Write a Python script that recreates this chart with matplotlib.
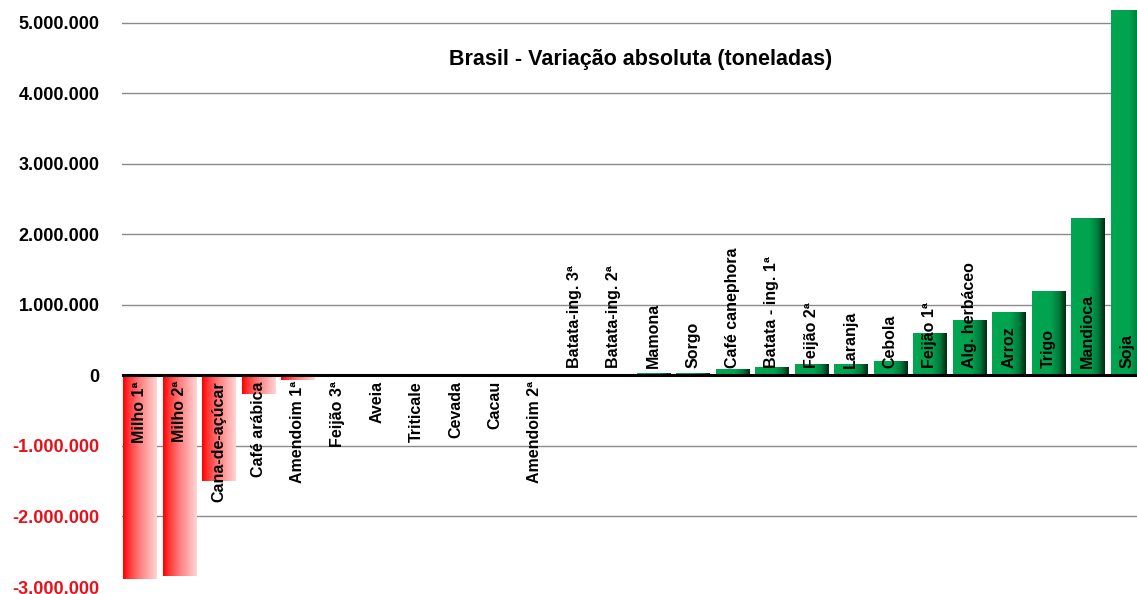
import matplotlib

matplotlib.use("Agg")
import matplotlib.pyplot as plt
import numpy as np
from matplotlib.colors import LinearSegmentedColormap
from matplotlib.ticker import FuncFormatter

plt.rcParams["font.family"] = ["Liberation Sans", "DejaVu Sans"]

CROPS = [
    "Milho 1ª", "Milho 2ª", "Cana-de-açúcar", "Café arábica", "Amendoim 1ª",
    "Feijão 3ª", "Aveia", "Triticale", "Cevada", "Cacau", "Amendoim 2ª",
    "Batata-ing. 3ª", "Batata-ing. 2ª", "Mamona", "Sorgo", "Café canephora",
    "Batata - ing. 1ª", "Feijão 2ª", "Laranja", "Cebola", "Feijão 1ª",
    "Alg. herbáceo", "Arroz", "Trigo", "Mandioca", "Soja",
]
VALUES = [
    -2890000, -2850000, -1490000, -260000, -60000,
    -4000, -3000, -2500, -2000, -1500, -1000,
    1000, 2000, 37000, 35000, 90000,
    120000, 160000, 160000, 200000, 600000,
    790000, 900000, 1200000, 2240000, 5180000,
]
YTICKS = [-3000000, -2000000, -1000000, 0, 1000000, 2000000, 3000000, 4000000, 5000000]

RED_CMAP = LinearSegmentedColormap.from_list(
    "red", [(0, "#ff0000"), (0.15, "#ff3030"), (0.5, "#ff8080"), (1, "#ffd4d4")]
)
GREEN_CMAP = LinearSegmentedColormap.from_list(
    "green", [(0, "#00a651"), (0.55, "#00a34f"), (0.8, "#007a3a"), (1, "#052a12")]
)


def fmt(v, _pos):
    return f"{int(v):,}".replace(",", ".")


fig = plt.figure(figsize=(11.37, 5.94), dpi=100)
# plot area spans from the -3M line (y=587 px) to the top of the image
ax = fig.add_axes([122 / 1137, 7 / 594, 1 - 122 / 1137, 587 / 594])

x = np.arange(len(CROPS))
width = 0.84
bars = ax.bar(x, VALUES, width=width, color="none", edgecolor="none", zorder=2)
grad = np.linspace(0, 1, 64).reshape(1, -1)
for xi, val, bar in zip(x, VALUES, bars):
    cmap = GREEN_CMAP if val > 0 else RED_CMAP
    im = ax.imshow(
        grad, cmap=cmap, aspect="auto", interpolation="bilinear",
        extent=(xi - width / 2, xi + width / 2, min(0, val), max(0, val)), zorder=2,
    )
    im.set_clip_path(bar)

for xi, val, name in zip(x, VALUES, CROPS):
    if val >= 0:
        ax.text(xi, 100000, name, rotation=90, ha="center", va="bottom",
                fontsize=11.5, fontweight="bold", zorder=4)
    else:
        ax.text(xi, -80000, name, rotation=90, ha="center", va="top",
                fontsize=11.5, fontweight="bold", zorder=4)

ax.axhline(0, color="black", linewidth=2.2, zorder=3)
ax.set_xlim(-0.45, 25.25)
ax.set_ylim(-3000000, 5326000)
ax.set_yticks(YTICKS)
ax.yaxis.set_major_formatter(FuncFormatter(fmt))
ax.yaxis.grid(True, color="#8a8a8a", linewidth=1.0, zorder=0)
ax.get_ygridlines()[0].set_visible(False)
ax.set_axisbelow(True)
ax.set_xticks([])
ax.tick_params(axis="y", length=0, pad=16, labelsize=13)
for lab, v in zip(ax.get_yticklabels(), YTICKS):
    lab.set_fontweight("bold")
    lab.set_color("#e8101a" if v < 0 else "black")
for s in ax.spines.values():
    s.set_visible(False)

fig.text(641 / 1137, 1 - 60 / 594, "Brasil - Variação absoluta (toneladas)",
         ha="center", va="center", fontsize=15.5, fontweight="bold")

fig.savefig("out.png", dpi=100)
